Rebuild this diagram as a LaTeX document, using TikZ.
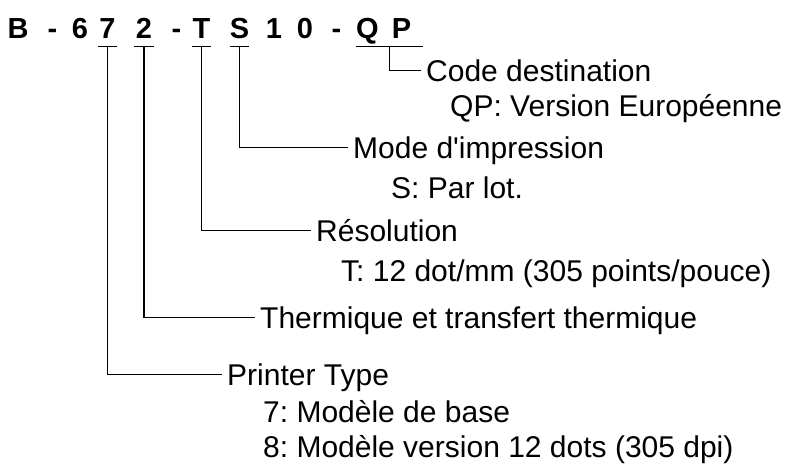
\documentclass[tikz,border=0pt]{standalone}
\usepackage{fontspec}
\setmainfont{Liberation Sans}
\usetikzlibrary{calc}
\frenchspacing
\tikzset{
  code/.style={font=\fontsize{29}{34}\selectfont\bfseries, anchor=base, inner xsep=0pt, inner ysep=8pt, minimum width=19pt, text depth=0pt},
  lab/.style={font=\fontsize{30}{35}\selectfont, anchor=base west, inner xsep=5pt, inner ysep=0pt, text height=21pt, text depth=0pt},
  tree/.style={line width=1.2pt}
}
\begin{document}
\begin{tikzpicture}[x=1pt,y=-1pt]
    \useasboundingbox (0,0) rectangle (792,463);
    \foreach \x/\c/\n in {18/B/cB, 52.5/-/d1, 80/6/c6, 107.5/7/c7, 144/2/c2, 176.5/-/d2, 201.5/T/cT, 239.5/S/cS, 274/1/c1, 305/0/c0, 336.5/-/d3, 367.5/Q/cQ, 401.5/P/cP}{
        \node[code] (\n) at (\x,38) {\c};
    }
    \node[lab] (code) at (421,81) {Code destination};
    \node[lab] (codeQP) at (445,116) {QP: Version Européenne};
    \node[lab] (mode) at (348,158) {Mode d\textquotesingle impression};
    \node[lab] (modeS) at (386,198) {S: Par lot.};
    \node[lab] (res) at (311,241) {Résolution};
    \node[lab] (resT) at (336,281) {T: 12 dot/mm (305 points/pouce)};
    \node[lab] (therm) at (255,328) {Thermique et transfert thermique};
    \node[lab] (type) at (222,385) {Printer Type};
    \node[lab] (type7) at (258,422) {7: Modèle de base};
    \node[lab] (type8) at (258,457) {8: Modèle version 12 dots (305 dpi)};
    \foreach \n/\m in {c7/type, c2/therm, cT/res, cS/mode}{
        \draw[tree] (\n.south west) -- (\n.south east);
        \draw[tree] (\n.south) |- (\m.west);
    }
    \draw[tree] (cQ.south west) -- ([xshift=12pt]cP.south east);
    \coordinate (qp) at ($(cQ.south west)!.5!([xshift=12pt]cP.south east)$);
    \draw[tree] (qp) |- (code.west);
\end{tikzpicture}
\end{document}
